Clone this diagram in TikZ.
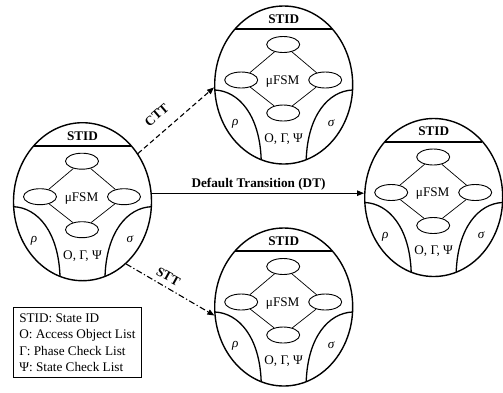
\documentclass[tikz,border=0pt]{standalone}
\usepackage{fontspec}
\setmainfont{Liberation Serif}
\usetikzlibrary{shapes.geometric,arrows.meta}

% One state: outer shell, STID bar, micro-FSM diamond, rho/sigma regions
\newcommand\fsmstate[3]{%
  \begin{scope}[shift={(#2,#3)}]
    \node[shell] (#1) at (0,0) {};
    \draw[idbar] (-48.7,-56) -- (48.7,-56);
    \node[boldlbl, anchor=base] (#1-id) at (0,-61.6) {STID};
    \node[substate] (#1-a) at (-0.5,-40.5) {};
    \node[substate] (#1-b) at (-42.5,-5) {};
    \node[substate] (#1-c) at (41.5,-5) {};
    \node[substate] (#1-d) at (-0.5,28) {};
    \draw[link] (#1-a) -- (#1-b) (#1-a) -- (#1-c) (#1-b) -- (#1-d) (#1-c) -- (#1-d);
    \node[plain, anchor=base] (#1-fsm) at (-1,-0.6) {μFSM};
    \draw[region] (-68.86,5) .. controls (-45,6) and (-24,30) .. (-22.5,74.7);
    \draw[region] (68.86,5) .. controls (45,6) and (24,30) .. (22.5,74.7);
    \node[plain, anchor=base] (#1-rho) at (-48.5,40.5) {\itshape ρ};
    \node[plain, anchor=base] (#1-sigma) at (47.5,41) {\itshape σ};
    \node[plain, anchor=base] (#1-lists) at (0,57.4) {O, Γ, Ψ};
  \end{scope}}

\begin{document}
\begin{tikzpicture}[x=1pt,y=-1pt,
  font=\fontsize{13.2}{16.2}\selectfont,
  shell/.style={draw, ellipse, line width=1.4pt, minimum width=138pt,
    minimum height=158pt, inner sep=0pt},
  substate/.style={draw, ellipse, line width=0.9pt, minimum width=33pt,
    minimum height=16pt, inner sep=0pt},
  link/.style={line width=0.7pt},
  idbar/.style={line width=2pt},
  region/.style={line width=1.3pt},
  plain/.style={inner sep=0pt},
  boldlbl/.style={inner sep=0pt, font=\fontsize{13.2}{16.2}\selectfont\bfseries},
  trans/.style={line width=1.1pt, -{Triangle[length=7pt,width=5.5pt]}},
  cttline/.style={trans, dash pattern=on 5pt off 3pt},
  sttline/.style={trans, dash pattern=on 6pt off 2.5pt on 1.2pt off 2.5pt},
  keybox/.style={draw, line width=0.8pt, align=left, inner xsep=5.6pt,
    inner ysep=0pt, minimum height=70pt, anchor=north west},
]
\useasboundingbox (0,0) rectangle (503,392);

\fsmstate{L}{82.5}{201.7}
\fsmstate{T}{283.7}{85}
\fsmstate{R}{433.7}{197.5}
\fsmstate{B}{283.7}{307}

% transitions
\draw[trans] (L.7.5) -- (L.7.5 -| R.west);
\node[boldlbl, anchor=base] (dtlbl) at (258.5,187.7) {Default Transition (DT)};

\draw[cttline] (L.41.3) -- (T.182);
\node[boldlbl, rotate=41] (cttlbl) at (156.7,115) {CTT};

\draw[sttline] (L.-55.8) -- (B.187);
\node[boldlbl, rotate=-29.1] (sttlbl) at (168.3,276.7) {STT};

% legend
\node[keybox] (key) at (13.3,307.3)
  {STID: State ID\\O: Access Object List\\Γ: Phase Check List\\Ψ: State Check List};
\end{tikzpicture}
\end{document}
